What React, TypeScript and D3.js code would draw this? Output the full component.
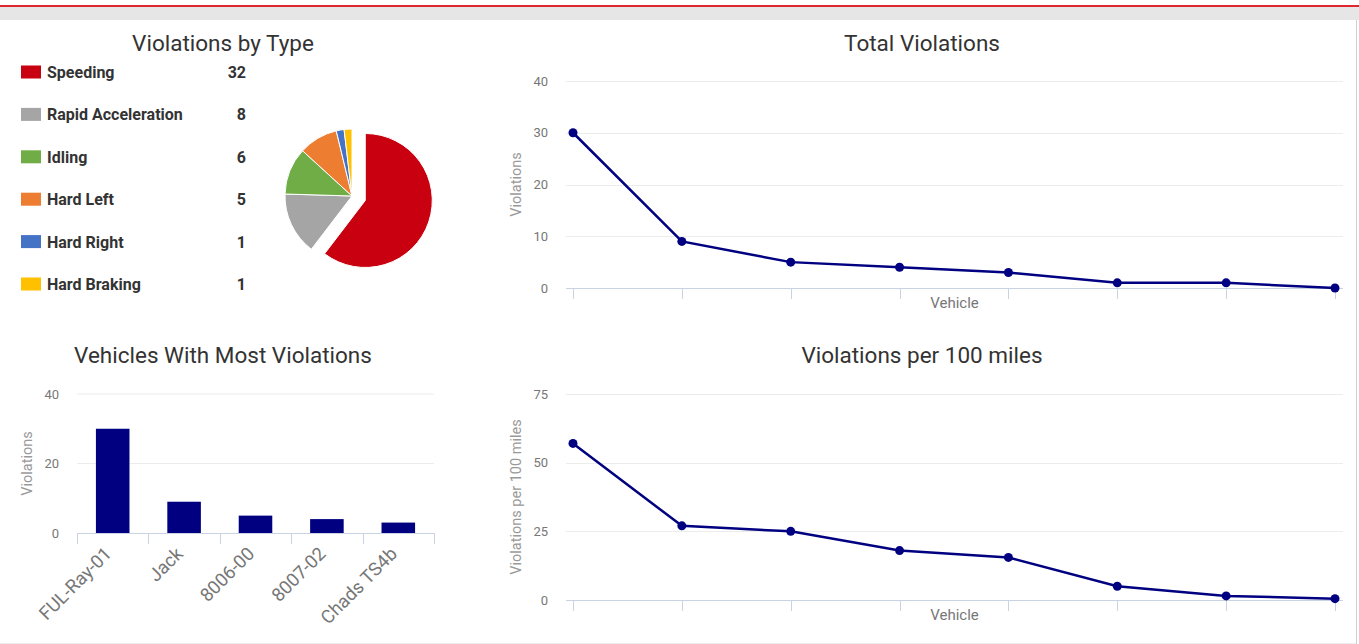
import React from 'react';
import * as d3 from 'd3';

const violationTypes = ['Speeding', 'Rapid Acceleration', 'Idling', 'Hard Left', 'Hard Right', 'Hard Braking'];
const violationCounts = [32, 8, 6, 5, 1, 1];
const typeColors = ['#c8000f', '#a5a5a5', '#70ad47', '#ed7d31', '#4472c4', '#ffc000'];

const topVehicles = ['FUL-Ray-01', 'Jack', '8006-00', '8007-02', 'Chads TS4b'];
const topVehicleCounts = [30, 9, 5, 4, 3];

// line charts: 8 vehicles, no category labels shown
const vehicleSlots = ['v1', 'v2', 'v3', 'v4', 'v5', 'v6', 'v7', 'v8'];
const totalViolations = [30, 9, 5, 4, 3, 1, 1, 0];
const per100Miles = [57, 27, 25, 18, 15.5, 5, 1.5, 0.5];

const totalTicks = [0, 10, 20, 30, 40];
const per100Ticks = [0, 25, 50, 75];
const barTicks = [0, 20, 40];

const FONT = 'Roboto, "Open Sans", Arial, sans-serif';
const TITLE = '#333';
const TICK = '#777';
const GRID = '#ececec';
const AXIS = '#c9d3e2';
const NAVY = '#000080';

const PieBlock = () => {
  const cx = 352, cy = 196, r = 67;
  const pie = d3.pie<number>().sort(null).startAngle(0).endAngle(2 * Math.PI);
  const arcs = pie(violationCounts);
  const arc = d3.arc<d3.PieArcDatum<number>>().innerRadius(0).outerRadius(r);
  const rowY = d3.scaleLinear().domain([0, 5]).range([72, 284]);

  return (
    <g>
      <text x={223} y={51} textAnchor="middle" fontSize={22.5} fill={TITLE} fontFamily={FONT}>Violations by Type</text>
      {violationTypes.map((name, i) => (
        <g key={name}>
          <rect x={21} y={rowY(i) - 6.5} width={20} height={13} fill={typeColors[i]} />
          <text x={47} y={rowY(i) + 6} fontSize={16} fontWeight={700} fill={TITLE} fontFamily={FONT}>{name}</text>
          <text x={246} y={rowY(i) + 6} textAnchor="end" fontSize={16} fontWeight={700} fill={TITLE} fontFamily={FONT}>{violationCounts[i]}</text>
        </g>
      ))}
      {arcs.map((a, i) => {
        const mid = (a.startAngle + a.endAngle) / 2;
        const off = i === 0 ? 14 : 0;
        const dx = Math.sin(mid) * off, dy = -Math.cos(mid) * off;
        return (
          <path key={i} d={arc(a) || ''} transform={`translate(${cx + dx},${cy + dy})`}
            fill={typeColors[i]} stroke="#fff" strokeWidth={1} />
        );
      })}
    </g>
  );
};

const BarBlock = () => {
  const x0 = 77, x1 = 434;
  const x = d3.scaleBand().domain(topVehicles).range([x0, x1]).paddingInner(0.53).paddingOuter(0.265);
  const band = d3.scaleBand().domain(topVehicles).range([x0, x1]);
  const y = d3.scaleLinear().domain([0, 40]).range([533, 394]);

  return (
    <g fontFamily={FONT}>
      <text x={223} y={363} textAnchor="middle" fontSize={22.5} fill={TITLE}>Vehicles With Most Violations</text>
      {barTicks.map(t => (
        <g key={t}>
          {t > 0 && <line x1={x0} x2={x1} y1={y(t)} y2={y(t)} stroke={GRID} />}
          <text x={59} y={y(t) + 4.5} textAnchor="end" fontSize={13} fill={TICK}>{t}</text>
        </g>
      ))}
      <text transform={`translate(32,${y(20)}) rotate(-90)`} textAnchor="middle" fontSize={14.5} fill="#999">Violations</text>
      {topVehicles.map((v, i) => (
        <rect key={v} x={x(v)} y={y(topVehicleCounts[i])} width={x.bandwidth()} height={y(0) - y(topVehicleCounts[i])} fill={NAVY} />
      ))}
      <line x1={x0} x2={x1} y1={533.5} y2={533.5} stroke={AXIS} />
      {[...topVehicles.map(v => band(v) as number), x1].map((tx, i) => (
        <line key={i} x1={Math.round(tx) + 0.5} x2={Math.round(tx) + 0.5} y1={533} y2={544} stroke={AXIS} />
      ))}
      {topVehicles.map(v => {
        const cx = (band(v) as number) + band.bandwidth() / 2;
        return (
          <text key={v} transform={`translate(${cx},${555}) rotate(-45)`} textAnchor="end" fontSize={18.5} fill={TICK}>{v}</text>
        );
      })}
    </g>
  );
};

interface LineBlockProps {
  title: string;
  titleY: number;
  yTitle: string;
  values: number[];
  ticks: number[];
  yTop: number;
  yBottom: number;
}

const LineBlock = ({ title, titleY, yTitle, values, ticks, yTop, yBottom }: LineBlockProps) => {
  const gx0 = 566, gx1 = 1343;
  const x = d3.scalePoint().domain(vehicleSlots).range([573, 1335]);
  const y = d3.scaleLinear().domain([0, ticks[ticks.length - 1]]).range([yBottom, yTop]);
  const line = d3.line<number>().x((_, i) => x(vehicleSlots[i]) as number).y(d => y(d));

  return (
    <g fontFamily={FONT}>
      <text x={922} y={titleY} textAnchor="middle" fontSize={22.5} fill={TITLE}>{title}</text>
      {ticks.map(t => (
        <g key={t}>
          {t > 0 && <line x1={gx0} x2={gx1} y1={Math.round(y(t)) + 0.5} y2={Math.round(y(t)) + 0.5} stroke={GRID} />}
          <text x={548} y={y(t) + 4.5} textAnchor="end" fontSize={13} fill={TICK}>{t}</text>
        </g>
      ))}
      <text transform={`translate(521,${(yTop + yBottom) / 2}) rotate(-90)`} textAnchor="middle" fontSize={14.5} fill="#999">{yTitle}</text>
      <line x1={gx0} x2={gx1} y1={yBottom + 0.5} y2={yBottom + 0.5} stroke={AXIS} />
      {vehicleSlots.map(v => (
        <line key={v} x1={Math.round(x(v) as number) + 0.5} x2={Math.round(x(v) as number) + 0.5} y1={yBottom} y2={yBottom + 11} stroke={AXIS} />
      ))}
      <text x={(gx0 + gx1) / 2} y={yBottom + 20} textAnchor="middle" fontSize={15} fill={TICK}>Vehicle</text>
      <path d={line(values) || ''} fill="none" stroke={NAVY} strokeWidth={2.5} />
      {values.map((v, i) => (
        <circle key={i} cx={x(vehicleSlots[i])} cy={y(v)} r={4.5} fill={NAVY} />
      ))}
    </g>
  );
};

export default function App() {
  return (
    <svg width={1359} height={644} style={{ position: 'absolute', left: 0, top: 0, background: '#fff' }}>
      <rect x={0} y={0} width={1359} height={644} fill="#fff" />
      <rect x={0} y={7} width={1359} height={13} fill="#e6e6e6" />
      <rect x={0} y={5} width={1359} height={2} fill="#e0262e" />
      <line x1={1356.5} x2={1356.5} y1={20} y2={644} stroke="#cfcfcf" />
      <line x1={0} x2={1356} y1={643.5} y2={643.5} stroke="#eeeeee" />
      <PieBlock />
      <LineBlock title="Total Violations" titleY={51} yTitle="Violations" values={totalViolations} ticks={totalTicks} yTop={81} yBottom={288} />
      <BarBlock />
      <LineBlock title="Violations per 100 miles" titleY={363} yTitle="Violations per 100 miles" values={per100Miles} ticks={per100Ticks} yTop={394} yBottom={600} />
    </svg>
  );
}
